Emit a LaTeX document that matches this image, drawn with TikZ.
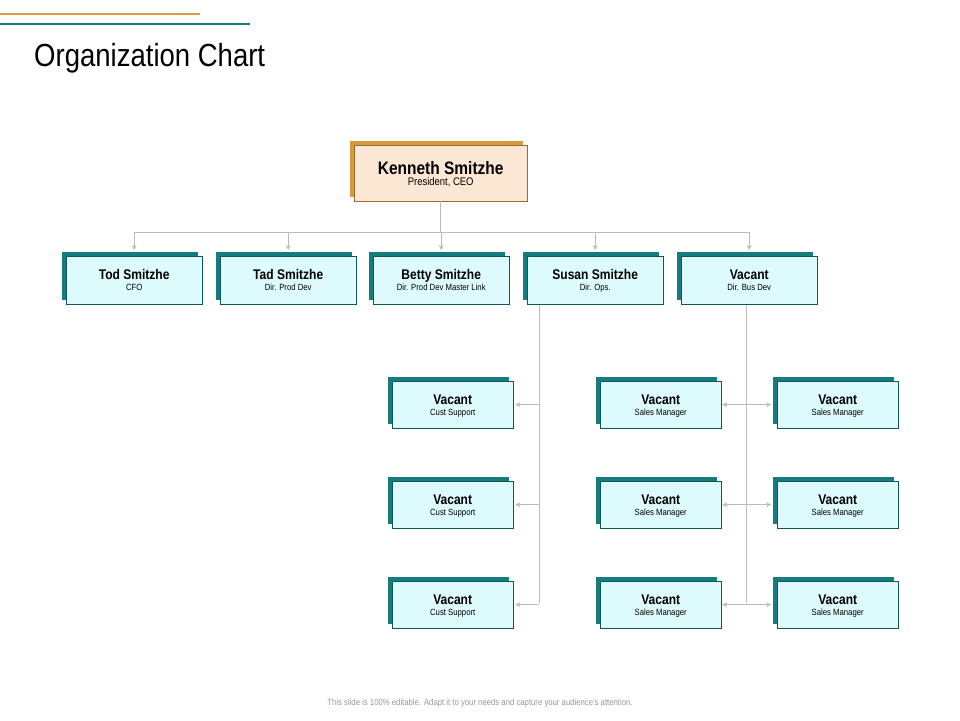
\documentclass[tikz,border=0pt]{standalone}
\usepackage{fontspec}
\setmainfont{Liberation Sans}[FakeStretch=0.86]
\usetikzlibrary{arrows.meta}
\definecolor{tealc}{HTML}{167C80}
\definecolor{teall}{HTML}{DDFBFD}
\definecolor{orac}{HTML}{D99A3E}
\definecolor{oral}{HTML}{FBE7D3}
\definecolor{linec}{HTML}{BBBBBB}
\tikzset{
  front/.style={draw=#1!70!black, line width=0.4pt, anchor=north west, inner sep=0pt, align=center},
  conn/.style={draw=linec, line width=0.7pt},
  arr/.style={conn, -{Stealth[length=5pt,width=5pt]}},
}
% \card{name}{x}{y}{w}{h}{dark}{light}{title size}{title}{sub}{sub size}
\newcommand{\mycard}[9]{%
  \fill[#6] (#2,#3) rectangle ++(#4,#5);
  \node[front=#6, fill=#7, minimum width=#4pt, minimum height=#5pt, text depth=0pt] (#1) at (#2+4,#3+4)
    {\rule{0pt}{0pt}#8\\[-1pt]#9};
}
\begin{document}
\begin{tikzpicture}[x=1pt,y=-1pt]
\useasboundingbox (0,0) rectangle (960,720);
\fill[white] (0,0) rectangle (960,720);
\draw[orac, line width=1.2pt] (0,14) -- (200,14);
\draw[tealc, line width=1.2pt] (0,24) -- (250,24);
\node[anchor=base west, inner sep=0pt, font=\fontsize{32}{36}\selectfont] (title) at (34,66) {Organization Chart};
\node[anchor=base, inner sep=0pt, text=gray!80, font=\fontsize{9}{10}\selectfont] (foot) at (480,705) {This slide is 100\% editable. Adapt it to your needs and capture your audience's attention.};

\mycard{ceo}{350}{141}{173}{56}{orac}{oral}{\fontsize{18}{20}\selectfont\bfseries Kenneth Smitzhe}{\fontsize{11}{12}\selectfont President, CEO}

\newcommand{\lone}[4]{\mycard{#1}{#2}{252}{136}{48}{tealc}{teall}{\fontsize{14}{16}\selectfont\bfseries #3}{\fontsize{9}{10}\selectfont #4}}
\lone{tod}{62}{Tod Smitzhe}{CFO}
\lone{tad}{216}{Tad Smitzhe}{Dir. Prod Dev}
\lone{betty}{369}{Betty Smitzhe}{Dir. Prod Dev Master Link}
\lone{susan}{523}{Susan Smitzhe}{Dir. Ops.}
\lone{busdev}{677}{Vacant}{Dir. Bus Dev}

\newcommand{\ltwo}[5]{\mycard{#1}{#2}{#3}{121}{47}{tealc}{teall}{\fontsize{14}{16}\selectfont\bfseries #4}{\fontsize{9}{10}\selectfont #5}}
\foreach \r/\y in {1/377,2/477,3/577}{
  \ltwo{cs\r}{388}{\y}{Vacant}{Cust Support}
  \ltwo{sa\r}{596}{\y}{Vacant}{Sales Manager}
  \ltwo{sb\r}{773}{\y}{Vacant}{Sales Manager}
}

% CEO to level 1
\coordinate (busc) at (ceo.south |- 0,232);
\draw[conn] (ceo.south) -- (busc);
\draw[conn] (tod.north |- busc) -- (busdev.north |- busc);
\foreach \n in {tod,tad,betty,susan,busdev}{
  \draw[arr, shorten >=6pt] (\n.north |- busc) -- (\n.north);
}
% Susan branch
\coordinate (sv) at (539,305);
\coordinate (svend) at (539,603);
\draw[conn] (sv) -- (svend);
\foreach \r in {1,2,3}{
  \draw[arr, shorten >=2pt] (sv |- cs\r.east) -- (cs\r.east);
}
% Bus dev branch
\coordinate (bv) at (746,305);
\coordinate (bvend) at (746,603);
\draw[conn] (bv) -- (bvend);
\foreach \r in {1,2,3}{
  \draw[arr, shorten >=1pt] (bv |- sa\r.east) -- (sa\r.east);
  \draw[arr, shorten >=6pt] (bv |- sa\r.east) -- (sb\r.west);
}
\end{tikzpicture}
\end{document}
